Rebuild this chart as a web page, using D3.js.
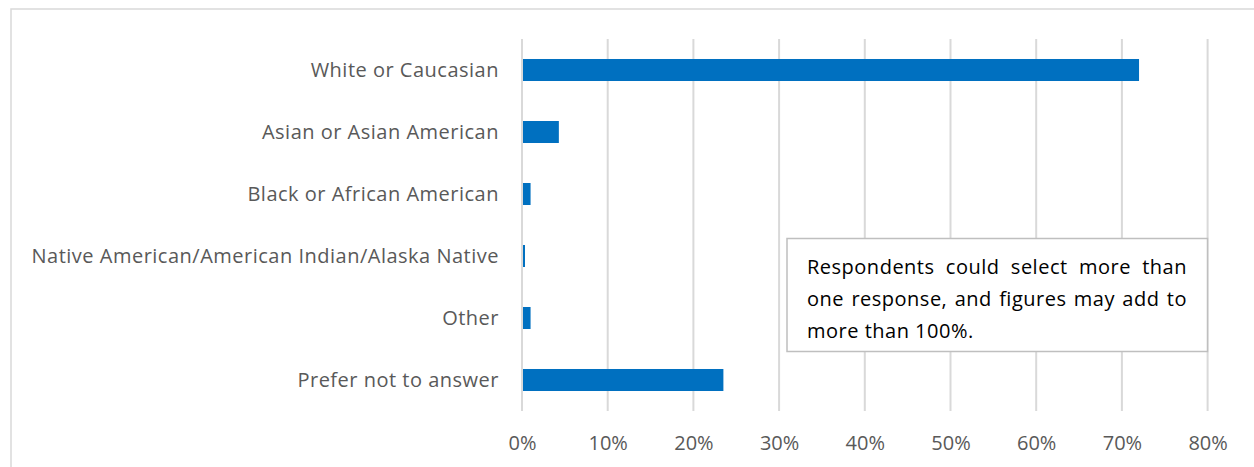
<!DOCTYPE html>
<html>
<head>
<meta charset="utf-8">
<script src="https://cdn.jsdelivr.net/npm/d3@7"></script>
<style>
  html, body { margin: 0; padding: 0; background: #fff; }
  svg { display: block; }
</style>
</head>
<body>
<svg id="chart" width="1254" height="467"></svg>
<script>
// Survey responses by race / ethnicity (share of respondents)
const categories = [
  "White or Caucasian",
  "Asian or Asian American",
  "Black or African American",
  "Native American/American Indian/Alaska Native",
  "Other",
  "Prefer not to answer"
];
const shares = [0.72, 0.043, 0.01, 0.0035, 0.01, 0.235];
const tickValues = [0, 0.1, 0.2, 0.3, 0.4, 0.5, 0.6, 0.7, 0.8];
const noteLines = [
  ["Respondents", "could", "select", "more", "than"],
  ["one", "response,", "and", "figures", "may", "add", "to"],
  ["more than 100%."]
];

const FONT = "'Open Sans', Lato, sans-serif";
const svg = d3.select("#chart");
const W = 1254, H = 467;

// outer chart frame
svg.append("rect")
  .attr("x", 11).attr("y", 9)
  .attr("width", W + 20).attr("height", H + 20)
  .attr("fill", "#fff")
  .attr("stroke", "#d9d9d9").attr("stroke-width", 1.5);

const plot = { left: 522, right: 1207.6, top: 39, bottom: 411 };

const x = d3.scaleLinear().domain([0, 0.8]).range([plot.left, plot.right]);
const y = d3.scaleBand().domain(categories).range([plot.top, plot.bottom]).paddingInner(0.645).paddingOuter(0.3225);

// vertical gridlines
svg.append("g")
  .selectAll("line")
  .data(tickValues)
  .join("line")
  .attr("x1", d => x(d)).attr("x2", d => x(d))
  .attr("y1", plot.top).attr("y2", plot.bottom)
  .attr("stroke", "#d9d9d9").attr("stroke-width", 2);

// bars
svg.append("g")
  .selectAll("rect")
  .data(categories)
  .join("rect")
  .attr("x", x(0) + 1)
  .attr("y", d => y(d))
  .attr("width", (d, i) => Math.max(0, x(shares[i]) - x(0) - 1))
  .attr("height", y.bandwidth())
  .attr("fill", "#0070c0");

// category labels
const catAxis = d3.axisLeft(y).tickSize(0).tickPadding(0);
svg.append("g")
  .attr("transform", `translate(${plot.left - 23},0)`)
  .call(catAxis)
  .call(g => g.select(".domain").remove())
  .selectAll("text")
  .attr("font-family", FONT)
  .attr("font-size", 20)
  .attr("letter-spacing", 0.5)
  .attr("fill", "#595959")
  .attr("dy", "0.35em");

// percent tick labels
const xAxis = d3.axisBottom(x).tickValues(tickValues).tickFormat(d3.format(".0%")).tickSize(0).tickPadding(0);
svg.append("g")
  .attr("transform", `translate(0,${443})`)
  .call(xAxis)
  .call(g => g.select(".domain").remove())
  .selectAll("text")
  .attr("font-family", FONT)
  .attr("font-size", 20)
  .attr("fill", "#595959")
  .attr("dy", "0.35em");

// note box
const box = { x: 787, y: 238.5, w: 420.5, h: 113 };
svg.append("rect")
  .attr("x", box.x).attr("y", box.y)
  .attr("width", box.w).attr("height", box.h)
  .attr("fill", "#fff")
  .attr("stroke", "#bfbfbf").attr("stroke-width", 1.5);

// justified note text
const textLeft = 807, textRight = 1187;
const baselines = [274, 306, 338];
const noteG = svg.append("g");
noteLines.forEach((words, li) => {
  const last = li === noteLines.length - 1;
  const tmp = words.map(w => noteG.append("text")
    .attr("font-family", FONT)
    .attr("font-size", 20).attr("letter-spacing", 0.5).attr("fill", "#000")
    .attr("y", baselines[li]).text(w));
  const widths = tmp.map(t => t.node().getComputedTextLength());
  const total = d3.sum(widths);
  const gap = (last || words.length < 2) ? 0 : (textRight - textLeft - total) / (words.length - 1);
  let cx = textLeft;
  tmp.forEach((t, i) => { t.attr("x", cx); cx += widths[i] + gap; });
});
</script>
</body>
</html>
